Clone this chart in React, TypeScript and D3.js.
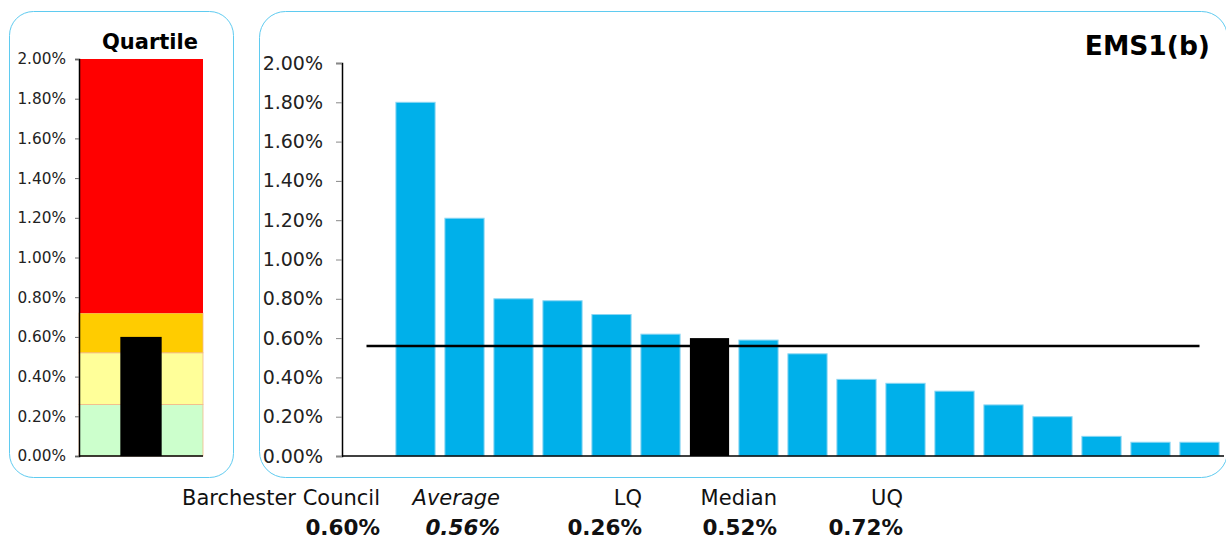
import React, { useEffect, useRef } from 'react';
import * as d3 from 'd3';

// bar chart data (first slot is empty in the source chart)
const categories = [
  'c0', 'c1', 'c2', 'c3', 'c4', 'c5', 'c6', 'Barchester Council', 'c8',
  'c9', 'c10', 'c11', 'c12', 'c13', 'c14', 'c15', 'c16', 'c17',
];
const values: (number | null)[] = [
  null, 1.8, 1.21, 0.8, 0.79, 0.72, 0.62, 0.6, 0.59, 0.52, 0.39, 0.37, 0.33,
  0.26, 0.2, 0.1, 0.07, 0.07,
];
const highlight = 'Barchester Council';
const yTicks = [0, 0.2, 0.4, 0.6, 0.8, 1.0, 1.2, 1.4, 1.6, 1.8, 2.0];

// summary figures
const summaryLabels = ['Barchester Council', 'Average', 'LQ', 'Median', 'UQ'];
const summaryValues = [0.6, 0.56, 0.26, 0.52, 0.72];
const average = 0.56;
const lq = 0.26;
const median = 0.52;
const uq = 0.72;
const councilValue = 0.6;

const bandColors = ['#ccffcc', '#ffff99', '#ffcc00', '#ff0000'];

const fmt = (v: number) => d3.format('.2f')(v) + '%';

export default function App() {
  const svgRef = useRef<SVGSVGElement>(null);
  const width = 1226;
  const height = 540;

  useEffect(() => {
    const svg = d3.select(svgRef.current);
    svg.selectAll('*').remove();

    const panelStroke = '#5fcbf0';
    const font = "'DejaVu Sans', Verdana, sans-serif";

    // panels
    svg.append('rect')
      .attr('x', 9.5).attr('y', 11.5).attr('width', 224).attr('height', 466)
      .attr('rx', 24).attr('fill', 'white').attr('stroke', panelStroke);
    svg.append('rect')
      .attr('x', 259.5).attr('y', 11.5).attr('width', 968).attr('height', 466)
      .attr('rx', 26).attr('fill', 'white').attr('stroke', panelStroke);

    // ---- quartile panel ----
    const qy = d3.scaleLinear().domain([0, 2]).range([456, 59]);
    const qx = d3.scaleBand<string>().domain([highlight]).range([79, 203]).padding(0.5);

    const bands = [0, lq, median, uq, 2];
    svg.append('g')
      .selectAll('rect')
      .data(bandColors)
      .join('rect')
      .attr('x', 79)
      .attr('width', 124)
      .attr('y', (_, i) => qy(bands[i + 1]))
      .attr('height', (_, i) => qy(bands[i]) - qy(bands[i + 1]))
      .attr('fill', (d) => d)
      .attr('stroke', (_, i) => (i < 3 ? '#f2b98a' : 'none'))
      .attr('stroke-width', 0.8);

    svg.append('rect')
      .attr('x', qx(highlight)!)
      .attr('width', qx.bandwidth())
      .attr('y', qy(councilValue))
      .attr('height', qy(0) - qy(councilValue))
      .attr('fill', 'black');

    const qAxis = svg.append('g')
      .attr('transform', 'translate(79,0)')
      .call(d3.axisLeft(qy).tickValues(yTicks).tickFormat((d) => fmt(d as number)).tickSize(4).tickPadding(9));
    qAxis.select('.domain').attr('stroke', 'black').attr('stroke-width', 1.5);
    qAxis.selectAll('.tick line').attr('stroke', '#666');
    qAxis.selectAll('text')
      .attr('font-family', font)
      .attr('font-size', 15.3)
      .attr('fill', '#222');
    svg.append('line')
      .attr('x1', 79).attr('x2', 203).attr('y1', 456).attr('y2', 456)
      .attr('stroke', 'black').attr('stroke-width', 1.5);

    svg.append('text')
      .attr('x', 198).attr('y', 49)
      .attr('text-anchor', 'end')
      .attr('font-family', font)
      .attr('font-weight', 'bold')
      .attr('font-size', 21)
      .text('Quartile');

    // ---- main bar chart ----
    const x = d3.scaleBand<string>()
      .domain(categories)
      .range([342, 1224])
      .paddingInner(0.2)
      .paddingOuter(0.1);
    const y = d3.scaleLinear().domain([0, 2]).range([456, 63]);

    const data = categories.map((c, i) => ({ c, v: values[i] })).filter((d) => d.v !== null);

    svg.append('g')
      .selectAll('rect')
      .data(data)
      .join('rect')
      .attr('x', (d) => x(d.c)!)
      .attr('width', x.bandwidth())
      .attr('y', (d) => y(d.v as number))
      .attr('height', (d) => y(0) - y(d.v as number))
      .attr('fill', (d) => (d.c === highlight ? 'black' : '#00b0ea'))
      .attr('stroke', (d) => (d.c === highlight ? 'none' : '#8ad6f3'))
      .attr('stroke-width', 1);

    const yAxis = svg.append('g')
      .attr('transform', 'translate(342,0)')
      .call(d3.axisLeft(y).tickValues(yTicks).tickFormat((d) => fmt(d as number)).tickSize(6).tickPadding(13));
    yAxis.select('.domain').attr('stroke', 'black').attr('stroke-width', 1.5);
    yAxis.selectAll('.tick line').attr('stroke', '#888');
    yAxis.selectAll('text')
      .attr('font-family', font)
      .attr('font-size', 19)
      .attr('fill', '#222');

    svg.append('line')
      .attr('x1', 342).attr('x2', 1224).attr('y1', y(0)).attr('y2', y(0))
      .attr('stroke', 'black').attr('stroke-width', 1.5);

    // average line
    const first = categories[0];
    const last = categories[categories.length - 1];
    svg.append('line')
      .attr('x1', x(first)! + x.bandwidth() / 2)
      .attr('x2', x(last)! + x.bandwidth() / 2)
      .attr('y1', y(average))
      .attr('y2', y(average))
      .attr('stroke', 'black')
      .attr('stroke-width', 2.5);

    svg.append('text')
      .attr('x', 1210).attr('y', 55)
      .attr('text-anchor', 'end')
      .attr('font-family', font)
      .attr('font-weight', 'bold')
      .attr('font-size', 26.5)
      .text('EMS1(b)');

    // ---- summary text ----
    const summaryX = [380, 500, 642, 777, 903];
    summaryLabels.forEach((lab, i) => {
      svg.append('text')
        .attr('x', summaryX[i]).attr('y', 505)
        .attr('text-anchor', 'end')
        .attr('font-family', font)
        .attr('font-size', 21)
        .attr('font-style', lab === 'Average' ? 'italic' : 'normal')
        .attr('fill', '#111')
        .text(lab);
      svg.append('text')
        .attr('x', summaryX[i]).attr('y', 535)
        .attr('text-anchor', 'end')
        .attr('font-family', font)
        .attr('font-weight', 'bold')
        .attr('font-size', 21.5)
        .attr('font-style', lab === 'Average' ? 'italic' : 'normal')
        .attr('fill', '#111')
        .text(fmt(summaryValues[i]));
    });
  }, []);

  return (
    <div style={{ position: 'absolute', left: 0, top: 0 }}>
      <svg ref={svgRef} width={width} height={height} viewBox={`0 0 ${width} ${height}`} />
    </div>
  );
}
